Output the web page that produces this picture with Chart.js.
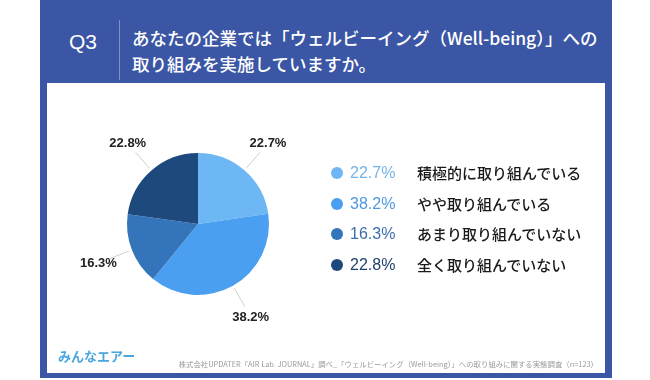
<!DOCTYPE html>
<html lang="ja">
<head>
<meta charset="utf-8">
<script src="https://cdn.jsdelivr.net/npm/chart.js@4.4.0/dist/chart.umd.min.js"></script>
<style>
  html, body { margin: 0; padding: 0; background: #ffffff; }
  body { width: 650px; height: 380px; position: relative; overflow: hidden;
         font-family: "Noto Sans CJK JP", "Noto Sans", sans-serif; }
  #frame { position: absolute; left: 40px; top: 0; width: 572px; height: 378px; background: #3b56a5; }
  #q { position: absolute; left: 58px; top: 28px; width: 50px; text-align: center; color: #fff;
       font-family: "Liberation Sans", Arial, sans-serif; font-size: 21px; line-height: 28px; }
  #divider { position: absolute; left: 119px; top: 20px; width: 1px; height: 60px; background: rgba(255,255,255,0.35); }
  #title { position: absolute; left: 132px; top: 25px; color: #fff; font-size: 17.5px; line-height: 26px; font-weight: 500; white-space: nowrap; }
  #panel { position: absolute; left: 47px; top: 83px; width: 558px; height: 290px; background: #fff; }
  #chartbox { position: absolute; left: 0; top: 0; width: 558px; height: 290px; }
  #legend { position: absolute; left: 0; top: 0; }
  .row { position: absolute; white-space: nowrap; height: 20px; line-height: 20px; }
  .dot { position: absolute; width: 12px; height: 12px; border-radius: 50%; top: 4px; }
  .pct { position: absolute; font-family: "Liberation Sans", Arial, sans-serif; font-size: 16px; }
  .lab { position: absolute; font-size: 15px; font-weight: 500; color: #1a1a1a; }
  #logo { position: absolute; left: 11px; top: 263px; color: #4aa7dd; font-size: 13px; font-weight: 700; letter-spacing: 0px; }
  #source { position: absolute; right: 7px; top: 275px; color: #9a9a9a; font-size: 7.4px; white-space: nowrap; }
</style>
</head>
<body>
<div id="frame"></div>
<div id="q">Q3</div>
<div id="divider"></div>
<div id="title">あなたの企業では「ウェルビーイング（Well-being）」への<br>取り組みを実施していますか。</div>
<div id="panel">
  <div id="chartbox"><canvas id="c"></canvas></div>
  <div id="legend"></div>
  <div id="logo">みんなエアー</div>
  <div id="source">株式会社UPDATER「AIR Lab. JOURNAL」調べ_「ウェルビーイング（Well-being）」への取り組みに関する実態調査（n=123）</div>
</div>
<script>
const categories = ['積極的に取り組んでいる', 'やや取り組んでいる', 'あまり取り組んでいない', '全く取り組んでいない'];
const values = [22.7, 38.2, 16.3, 22.8];
const sliceColors = ['#6db7f5', '#4b9ff0', '#3474bb', '#1e497c'];
const textColors = ['#74b3e8', '#4f98e0', '#3a70ad', '#21446f'];

const fmt = v => v.toFixed(1) + '%';

// legend built from the data arrays
const legend = document.getElementById('legend');
categories.forEach((cat, i) => {
  const row = document.createElement('div');
  row.className = 'row';
  row.style.left = '284px';
  row.style.top = (80 + i * 30.5) + 'px';
  row.innerHTML = '<span class="dot" style="left:0;background:' + sliceColors[i] + '"></span>' +
    '<span class="pct" style="left:19px;color:' + textColors[i] + '">' + fmt(values[i]) + '</span>' +
    '<span class="lab" style="left:86px">' + cat + '</span>';
  legend.appendChild(row);
});

const outsideLabels = {
  id: 'outsideLabels',
  afterDatasetsDraw(chart) {
    const ctx = chart.ctx;
    const meta = chart.getDatasetMeta(0);
    ctx.save();
    meta.data.forEach((arc, i) => {
      const mid = (arc.startAngle + arc.endAngle) / 2;
      const cx = arc.x, cy = arc.y, r = arc.outerRadius;
      const c = Math.cos(mid), s = Math.sin(mid);
      ctx.strokeStyle = '#cfcfcf';
      ctx.lineWidth = 1;
      ctx.beginPath();
      ctx.moveTo(cx + c * (r + 3), cy + s * (r + 3));
      ctx.lineTo(cx + c * (r + 24), cy + s * (r + 24));
      ctx.stroke();
      ctx.fillStyle = '#222';
      ctx.font = 'bold 13px "Liberation Sans", Arial, sans-serif';
      ctx.textAlign = 'center';
      ctx.textBaseline = 'middle';
      ctx.fillText(fmt(values[i]), cx + c * (r + 36), cy + s * (r + 36));
    });
    ctx.restore();
  }
};

new Chart(document.getElementById('c'), {
  type: 'pie',
  data: {
    labels: categories,
    datasets: [{ data: values, backgroundColor: sliceColors, borderWidth: 0 }]
  },
  options: {
    responsive: true,
    maintainAspectRatio: false,
    animation: false,
    layout: { padding: { left: 80, right: 336, top: 70, bottom: 78 } },
    plugins: { legend: { display: false }, tooltip: { enabled: false } }
  },
  plugins: [outsideLabels]
});
</script>
</body>
</html>
